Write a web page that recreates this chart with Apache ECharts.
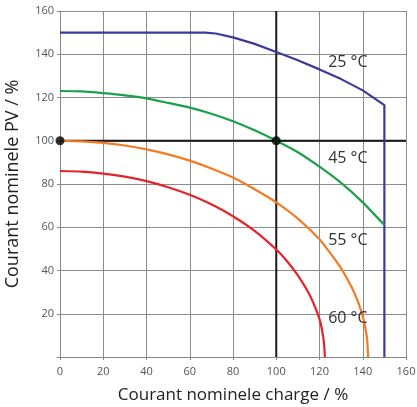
<!DOCTYPE html>
<html>
<head>
<meta charset="utf-8">
<script src="https://cdn.jsdelivr.net/npm/echarts@6/dist/echarts.min.js"></script>
<style>
  html, body { margin: 0; padding: 0; background: #fff; }
  #chart { width: 417px; height: 407px; }
</style>
</head>
<body>
<div id="chart"></div>
<script>
// values (x = charge %, y = PV %)
const xTicks = [0, 20, 40, 60, 80, 100, 120, 140, 160];
const yTicks = [20, 40, 60, 80, 100, 120, 140, 160];

const curve25 = [[0, 150], [67, 150], [72, 149.6], [80, 147.8], [90, 144.8], [100, 141], [110, 137.2],
  [120, 133], [130, 128.5], [140, 123.3], [150, 116.5], [150, 0]];
const curve45 = [[0, 123], [10, 122.8], [20, 122], [30, 121], [40, 119.6], [50, 117.5],
  [60, 115.3], [70, 112.5], [80, 109], [90, 104.8], [100, 100], [110, 94.7], [120, 88],
  [130, 80.5], [140, 71.5], [150, 61]];
const curve55 = [[0, 100], [10, 99.7], [20, 99], [30, 97.8], [40, 96], [50, 93.7],
  [60, 90.8], [70, 87.2], [80, 83], [90, 77.6], [100, 71.5], [110, 64], [120, 54.5],
  [125, 48], [130, 41], [135, 32], [138, 25], [140, 18.7], [141, 14.5], [142, 8.4], [142.5, 0]];
const curve60 = [[0, 86], [10, 85.7], [20, 84.8], [30, 83.4], [40, 81.3], [50, 78.5],
  [60, 75], [70, 70.6], [80, 65.1], [90, 58.3], [100, 49.7], [105, 44.3], [110, 37.8],
  [115, 29.6], [118, 23], [120, 17.5], [121, 13.4], [122, 7.3], [122.5, 0]];

const refH = [[0, 100], [160, 100]];
const refV = [[100, 0], [100, 160]];
const refDots = [[0, 100], [100, 100]];

const labelNames = ['25 °C', '45 °C', '55 °C', '60 °C'];
const labelPos = [[124, 136.4], [124, 91.6], [124, 54.1], [124, 18]];
const colors = ['#3e3a98', '#1ba14b', '#f47b20', '#e52329'];
const smoothing = [false, 0.2, 0.2, 0.2];

const chart = echarts.init(document.getElementById('chart'));
const font = '"Open Sans", "Noto Sans", sans-serif';

const curveSeries = [curve25, curve45, curve55, curve60].map((d, i) => ({
  type: 'line',
  data: d,
  showSymbol: false,
  smooth: smoothing[i],
  lineStyle: { color: colors[i], width: 2.2 },
  z: 3,
  markPoint: {
    symbol: 'circle',
    symbolSize: 0,
    label: {
      show: true,
      position: 'right',
      distance: 0,
      formatter: labelNames[i],
      color: '#333',
      fontSize: 16,
      fontFamily: font,
    },
    data: [{ coord: labelPos[i] }],
  },
}));

chart.setOption({
  animation: false,
  grid: { left: 60, right: 11, top: 11, bottom: 50, containLabel: false, outerBoundsMode: 'none' },
  xAxis: {
    type: 'value',
    min: 0, max: 160, interval: 20,
    name: 'Courant nominele charge / %',
    nameLocation: 'middle',
    nameGap: 30,
    nameTextStyle: { fontSize: 17, color: '#222', fontFamily: font },
    axisLine: { lineStyle: { color: '#888', width: 1 } },
    axisTick: { show: true, length: 3, lineStyle: { color: '#888' } },
    axisLabel: { fontSize: 11, color: '#555', margin: 9, fontFamily: font },
    splitLine: { show: true, lineStyle: { color: '#8c8c8c', width: 1 } },
  },
  yAxis: {
    type: 'value',
    min: 0, max: 160, interval: 20,
    name: 'Courant nominele PV / %',
    nameLocation: 'middle',
    nameGap: 38,
    nameTextStyle: { fontSize: 18, color: '#222', fontFamily: font },
    axisLine: { show: true, lineStyle: { color: '#888', width: 1 } },
    axisTick: { show: true, length: 3, lineStyle: { color: '#888' } },
    axisLabel: {
      fontSize: 11, color: '#555', margin: 6, fontFamily: font,
      formatter: (v) => (yTicks.includes(v) ? String(v) : ''),
    },
    splitLine: { show: true, lineStyle: { color: '#8c8c8c', width: 1 } },
  },
  series: [
    { type: 'line', data: refH, showSymbol: false, lineStyle: { color: '#1a1a1a', width: 2 }, z: 2 },
    { type: 'line', data: refV, showSymbol: false, lineStyle: { color: '#1a1a1a', width: 2 }, z: 2 },
    ...curveSeries,
    { type: 'scatter', data: refDots, symbolSize: 9, itemStyle: { color: '#000' }, z: 5 },
  ],
});
</script>
</body>
</html>
